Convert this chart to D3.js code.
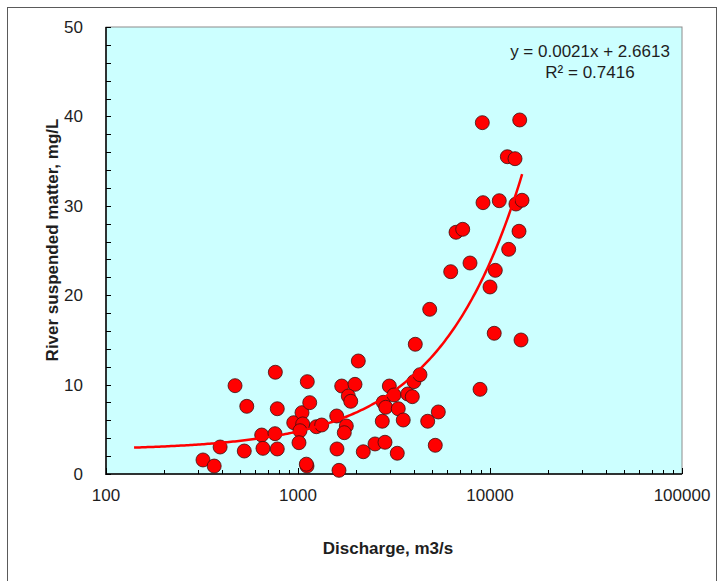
<!DOCTYPE html>
<html>
<head>
<meta charset="utf-8">
<script src="https://cdn.jsdelivr.net/npm/d3@7"></script>
<style>
  html, body { margin: 0; padding: 0; background: #ffffff; }
  svg { display: block; }
  text { font-family: "Liberation Sans", Arial, sans-serif; fill: #1e1e1e; }
</style>
</head>
<body>
<svg id="chart" width="718" height="581"></svg>
<script>
// River discharge (m3/s) and suspended matter (mg/L) observations
const discharge = [
  320, 366, 393, 470, 541, 525, 647, 657, 762, 759,
  780, 780, 950, 1049, 1058, 1024, 1012, 1118, 1151, 1114,
  1105, 1246, 1329, 1591, 1596, 1635, 1689, 1981, 1828, 1882,
  1785, 1742, 2061, 2188, 2518, 2839, 3289, 2748, 2781, 2863,
  2990, 3162, 3328, 3533, 3727, 3939, 4019, 4318, 4082, 4737,
  5380, 5188, 4853, 6241, 6653, 7208, 7868, 8874, 9120, 9195,
  10000, 10657, 10520, 11176, 12310, 13500, 12510, 13650, 14678, 14160,
  14280, 14505
];
const suspended = [
  1.57, 0.89, 3.02, 9.88, 7.57, 2.57, 4.36, 2.87, 11.38, 4.51,
  7.30, 2.80, 5.74, 6.86, 5.60, 4.84, 3.50, 10.33, 7.98, 0.89,
  1.10, 5.29, 5.48, 6.49, 2.80, 0.41, 9.84, 10.03, 8.72, 8.13,
  5.37, 4.62, 12.64, 2.49, 3.36, 3.55, 2.32, 5.90, 8.02, 7.46,
  9.84, 8.84, 7.30, 6.04, 8.95, 8.65, 10.33, 11.11, 14.51, 5.90,
  6.94, 3.21, 18.42, 22.63, 27.04, 27.37, 23.60, 9.47, 39.30, 30.35,
  20.92, 22.78, 15.74, 30.57, 35.49, 35.27, 25.13, 30.20, 30.62, 27.15,
  39.60, 14.99
];

// Axis ticks
const xTickValues = [100, 1000, 10000, 100000];
const xTickLabels = ["100", "1000", "10000", "100000"];
const yTickValues = [0, 10, 20, 30, 40, 50];
const yTickLabels = ["0", "10", "20", "30", "40", "50"];

// Linear trendline fitted to the observations
const trendSlope = 0.0021;
const trendIntercept = 2.6613;
const trendRange = [140, 14700];
const trendLabel = "y = 0.0021x + 2.6613";
const r2Label = "R\u00b2 = 0.7416";

const svg = d3.select("#chart");
const W = 718, H = 581;
const plot = { left: 106, top: 27, right: 682, bottom: 474 };

// Outer chart frame
svg.append("rect")
  .attr("x", 7.5).attr("y", 7.5)
  .attr("width", 709).attr("height", 590)
  .attr("fill", "#ffffff")
  .attr("stroke", "#5a5a5a").attr("stroke-width", 1);

const x = d3.scaleLog().domain([100, 100000]).range([plot.left, plot.right]);
const y = d3.scaleLinear().domain([0, 50]).range([plot.bottom, plot.top]);

// Plot area
svg.append("rect")
  .attr("x", plot.left).attr("y", plot.top)
  .attr("width", plot.right - plot.left).attr("height", plot.bottom - plot.top)
  .attr("fill", "#ccffff")
  .attr("stroke", "#8c8c8c").attr("stroke-width", 1);

// Minor ticks
const xMinor = [];
for (let d = 100; d < 100000; d *= 10) {
  for (let k = 2; k <= 9; k++) xMinor.push(d * k);
}
const yMinor = d3.range(0, 51, 2).filter(v => v % 10 !== 0);

const ticks = svg.append("g").attr("stroke", "#000").attr("stroke-width", 1);
ticks.selectAll("line.xminor").data(xMinor).join("line")
  .attr("x1", d => Math.round(x(d)) + 0.5).attr("x2", d => Math.round(x(d)) + 0.5)
  .attr("y1", plot.bottom).attr("y2", plot.bottom - 4);
ticks.selectAll("line.xmajor").data(xTickValues).join("line")
  .attr("x1", d => Math.round(x(d)) + 0.5).attr("x2", d => Math.round(x(d)) + 0.5)
  .attr("y1", plot.bottom).attr("y2", plot.bottom - 6);
ticks.selectAll("line.yminor").data(yMinor.concat(yTickValues)).join("line")
  .attr("x1", plot.left).attr("x2", plot.left + 5)
  .attr("y1", d => Math.round(y(d)) + 0.5).attr("y2", d => Math.round(y(d)) + 0.5);

// Axis lines
svg.append("line")
  .attr("x1", plot.left).attr("x2", plot.left)
  .attr("y1", plot.top).attr("y2", plot.bottom + 1)
  .attr("stroke", "#000").attr("stroke-width", 1.5);
svg.append("line")
  .attr("x1", plot.left).attr("x2", plot.right)
  .attr("y1", plot.bottom).attr("y2", plot.bottom)
  .attr("stroke", "#000").attr("stroke-width", 1.5);

// Tick labels
svg.append("g").selectAll("text").data(xTickValues).join("text")
  .attr("x", d => x(d)).attr("y", plot.bottom + 27)
  .attr("text-anchor", "middle")
  .attr("font-size", 17)
  .text((d, i) => xTickLabels[i]);
svg.append("g").selectAll("text").data(yTickValues).join("text")
  .attr("x", 83).attr("y", d => y(d) + 6)
  .attr("text-anchor", "end")
  .attr("font-size", 17)
  .text((d, i) => yTickLabels[i]);

// Axis titles
svg.append("text")
  .attr("x", 388).attr("y", 554)
  .attr("text-anchor", "middle")
  .attr("font-size", 17).attr("font-weight", "bold")
  .text("Discharge, m3/s");
svg.append("text")
  .attr("transform", "translate(58,240) rotate(-90)")
  .attr("text-anchor", "middle")
  .attr("font-size", 17).attr("font-weight", "bold")
  .text("River suspended matter, mg/L");

// Observations
const clip = svg.append("clipPath").attr("id", "plotclip")
  .append("rect")
  .attr("x", plot.left).attr("y", plot.top - 10)
  .attr("width", plot.right - plot.left).attr("height", plot.bottom - plot.top + 10);

svg.append("g")
  .selectAll("circle").data(discharge).join("circle")
  .attr("cx", d => x(d))
  .attr("cy", (d, i) => y(suspended[i]))
  .attr("r", 7)
  .attr("fill", "#ff0000")
  .attr("stroke", "#3a1010").attr("stroke-width", 0.8);

// Trendline drawn on the log axis
const trendX = d3.range(0, 201).map(i =>
  Math.pow(10, Math.log10(trendRange[0]) + i / 200 * (Math.log10(trendRange[1]) - Math.log10(trendRange[0]))));
const line = d3.line()
  .x(d => x(d))
  .y(d => y(trendSlope * d + trendIntercept))
  .curve(d3.curveLinear);
svg.append("path")
  .datum(trendX)
  .attr("d", line)
  .attr("fill", "none")
  .attr("stroke", "#ff0000")
  .attr("stroke-width", 2.5);

// Trendline equation
const eq = svg.append("g").attr("text-anchor", "middle").attr("font-size", 17);
eq.append("text").attr("x", 590).attr("y", 57).text(trendLabel);
eq.append("text").attr("x", 590).attr("y", 78).text(r2Label);
</script>
</body>
</html>
